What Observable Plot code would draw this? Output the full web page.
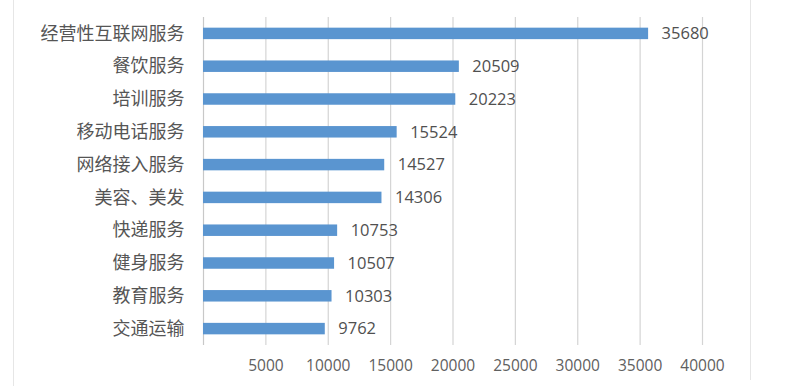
<!DOCTYPE html>
<html>
<head>
<meta charset="utf-8">
<script src="https://cdn.jsdelivr.net/npm/d3@7"></script>
<script src="https://cdn.jsdelivr.net/npm/@observablehq/plot@0.6"></script>
<style>
  html, body { margin: 0; padding: 0; background: #fff; }
  #wrap { position: relative; width: 800px; height: 389px; overflow: hidden; }
  .frame { position: absolute; top: 0; width: 1px; background: #e6e6e6; }
</style>
</head>
<body>
<div id="wrap">
  <div class="frame" style="left:13px;height:386px;"></div>
  <div class="frame" style="left:750px;height:380px;"></div>
</div>
<script>
const categories = ["经营性互联网服务", "餐饮服务", "培训服务", "移动电话服务", "网络接入服务", "美容、美发", "快递服务", "健身服务", "教育服务", "交通运输"];
const values = [35680, 20509, 20223, 15524, 14527, 14306, 10753, 10507, 10303, 9762];
const xTicks = [5000, 10000, 15000, 20000, 25000, 30000, 35000, 40000];

const data = categories.map((c, i) => ({category: c, value: values[i]}));

const chart = Plot.plot({
  width: 800,
  height: 389,
  marginTop: 17,
  marginBottom: 44,
  marginLeft: 203,
  marginRight: 98,
  style: {fontFamily: "'Open Sans', 'Noto Sans CJK SC', sans-serif", background: "transparent"},
  x: {domain: [0, 40000], ticks: xTicks},
  y: {domain: categories, paddingInner: 0.65, paddingOuter: 0.325, round: false},
  marks: [
    Plot.gridX(xTicks, {stroke: "#d4d4d4", strokeOpacity: 1, strokeWidth: 1.2}),
    Plot.ruleX([0], {stroke: "#c8c8c8", strokeWidth: 1.2}),
    Plot.barX(data, {x: "value", y: "category", fill: "#5a95d0"}),
    Plot.text(data, {x: "value", y: "category", text: d => String(d.value), textAnchor: "start", dx: 13, fontSize: 16.5, fill: "#505050"}),
    Plot.axisX(xTicks, {tickSize: 0, tickPadding: 14, fontSize: 15.5, color: "#606060", tickFormat: d => String(d), label: null}),
    Plot.axisY({tickSize: 0, tickPadding: 19, fontSize: 18, color: "#555", label: null, fontFamily: "'Noto Sans CJK SC', sans-serif"})
  ]
});
chart.style.position = "absolute";
chart.style.left = "0px";
chart.style.top = "0px";
document.getElementById("wrap").appendChild(chart);
</script>
</body>
</html>
